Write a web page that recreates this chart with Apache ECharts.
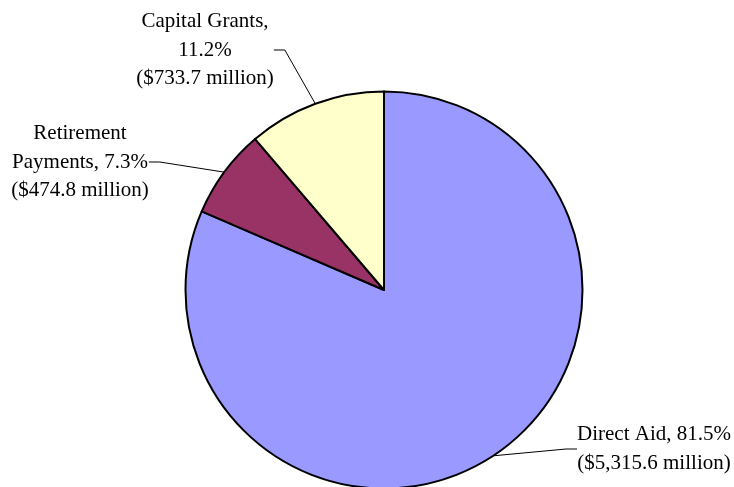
<!DOCTYPE html>
<html>
<head>
<meta charset="utf-8">
<script src="https://cdn.jsdelivr.net/npm/echarts@6/dist/echarts.min.js"></script>
<style>html,body{margin:0;padding:0;background:#fff;}#c{width:734px;height:487px;}</style>
</head>
<body>
<div id="c"></div>
<script>
const categories = ['Direct Aid', 'Retirement Payments', 'Capital Grants'];
const amounts = [5315.6, 474.8, 733.7];           // $ million
const percents = ['81.5%', '7.3%', '11.2%'];
const amountLabels = ['$5,315.6 million', '$474.8 million', '$733.7 million'];
const labelTexts = [
  'Direct Aid, 81.5%\n($5,315.6 million)',
  'Retirement\nPayments, 7.3%\n($474.8 million)',
  'Capital Grants,\n11.2%\n($733.7 million)'
];
const colors = ['#9999FF', '#993366', '#FFFFCC'];
// label centre positions (px)
const labelPos = [[654, 449], [80, 162], [205, 50]];

const chart = echarts.init(document.getElementById('c'));
chart.setOption({
  animation: false,
  series: [{
    type: 'pie',
    center: [384, 290],
    radius: 198.5,
    startAngle: 90,
    clockwise: true,
    avoidLabelOverlap: false,
    itemStyle: { borderColor: '#000', borderWidth: 2 },
    label: {
      show: true,
      position: 'outside',
      color: '#000',
      fontFamily: '"Liberation Serif", "Times New Roman", serif',
      fontSize: 21,
      lineHeight: 28.5,
      align: 'center',
      formatter: p => labelTexts[p.dataIndex]
    },
    labelLine: {
      show: true,
      length: 20,
      length2: 11,
      lineStyle: { color: '#000', width: 1 }
    },
    labelLayout: p => ({
      x: labelPos[p.dataIndex][0],
      y: labelPos[p.dataIndex][1],
      align: 'center',
      verticalAlign: 'middle'
    }),
    data: categories.map((c, i) => ({
      name: c,
      value: amounts[i],
      itemStyle: { color: colors[i] }
    }))
  }]
});
</script>
</body>
</html>
